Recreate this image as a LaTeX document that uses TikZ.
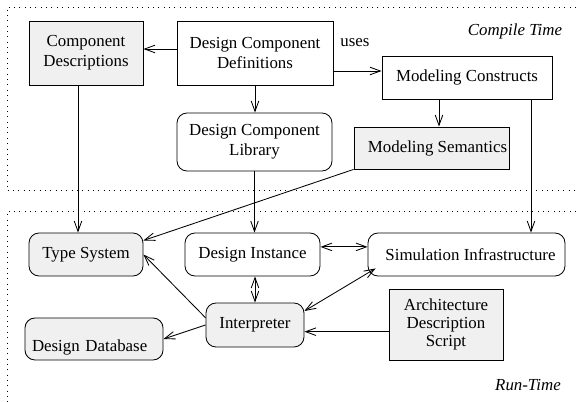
\documentclass[tikz,border=0pt]{standalone}
\usepackage{fontspec}
\setmainfont{Liberation Serif}
\usetikzlibrary{arrows.meta}
\definecolor{boxgrey}{RGB}{240,240,240}

\begin{document}
\begin{tikzpicture}[font=\fontsize{12}{14.5}\selectfont,line width=0.6pt,
    >={Straight Barb[length=2.6mm,width=1.9mm]},
    sqbox/.style={draw,rectangle,align=center,inner sep=1pt},
    rndbox/.style={draw,rectangle,rounded corners=2.5mm,align=center,inner sep=1pt},
    greyfill/.style={fill=boxgrey},
    region/.style={dash pattern=on 0.7pt off 3.1pt}]
  \useasboundingbox (0,0) rectangle (14.4,10.05);

  % compile time and run-time regions:
  \draw[region] (14.4,9.875) -- (0.175,9.875) -- (0.175,5.283) -- (14.4,5.283);
  \draw[region] (14.4,4.758) -- (0.175,4.758) -- (0.175,0);
  \node (ctlabel) at (12.875,9.275) {\itshape Compile Time};
  \node (rtlabel) at (13.2,0.425) {\itshape Run-Time};

  % compile time boxes:
  \node[sqbox,greyfill,minimum width=2.85cm,minimum height=1.6cm] (cd) at (2.15,8.725) {Component\\Descriptions};
  \node[sqbox,minimum width=3.9cm,minimum height=1.6cm] (dcd) at (6.375,8.725) {Design Component\\Definitions};
  \node[sqbox,minimum width=4.25cm,minimum height=1.075cm] (mc) at (11.675,8.1125) {Modeling Constructs};
  \node[rndbox,minimum width=3.875cm,minimum height=1.45cm] (dcl) at (6.3625,6.5) {Design Component\\Library};
  \node[sqbox,greyfill,minimum width=3.875cm,minimum height=1.05cm] (ms) at (10.7875,6.35) {\hspace{3mm}Modeling Semantics};
  \node (uses) at (8.875,8.975) {uses};

  % run-time boxes:
  \node[rndbox,greyfill,minimum width=2.85cm,minimum height=1.075cm] (ts) at (2.15,3.6875) {Type System};
  \node[rndbox,minimum width=3.375cm,minimum height=1.075cm] (di) at (6.3125,3.6875) {Design Instance};
  \node[rndbox,minimum width=4.925cm,minimum height=1.075cm] (si) at (11.6625,3.6875) {\hspace{2mm}Simulation Infrastructure};
  \node[rndbox,greyfill,minimum width=2.45cm,minimum height=1.1cm] (interp) at (6.375,1.925) {Interpreter};
  \node[rndbox,greyfill,inner xsep=5pt,inner ysep=0pt,text width=3.1cm,align=left,
        text height=24.2pt,text depth=5.7pt] (ddb) at (2.35,1.575) {Design Database};
  \node[sqbox,greyfill,minimum width=2.85cm,minimum height=1.775cm,
        font=\fontsize{12}{13}\selectfont] (ads) at (11.15,1.9375) {Architecture\\Description\\Script};

  % connections:
  \draw[->] ([yshift=1mm]dcd.west) -- ([yshift=1mm]dcd.west -| cd.east);
  \draw[->] (dcd.south) -- (dcd.south |- dcl.north);
  \draw[->] ([yshift=-4.5mm]dcd.east) -- ([yshift=-4.5mm]dcd.east -| mc.west);
  \draw[->] ([xshift=-7mm]mc.south) -- ([xshift=-7mm]mc.south |- ms.north);
  \draw[->] ([xshift=-2mm]cd.south) -- ([xshift=-2mm]cd.south |- ts.north);
  \draw[->] (dcl.south) -- (dcl.south |- di.north);
  \draw[->] (ms.south west) -- ([yshift=3.5mm]ts.east);
  \draw[->] ([xshift=16mm]mc.south) -- ([xshift=16mm]mc.south |- si.north);
  \draw[<->] ([yshift=1.9mm]di.east) -- ([yshift=1.9mm]di.east -| si.west);
  \draw[<->] (interp.north |- di.south) -- (interp.north);
  \draw[->] ([yshift=1.8mm]interp.west) -- (ts.east);
  \draw[->] (interp.west) -- (ddb.east);
  \draw[->] ([yshift=-1.8mm]ads.west) -- ([yshift=-1.8mm]ads.west -| interp.east);
  \draw[<->] ([yshift=3.5mm]interp.east) -- ([shift={(0.2,0.2)}]si.south west);
\end{tikzpicture}
\end{document}
